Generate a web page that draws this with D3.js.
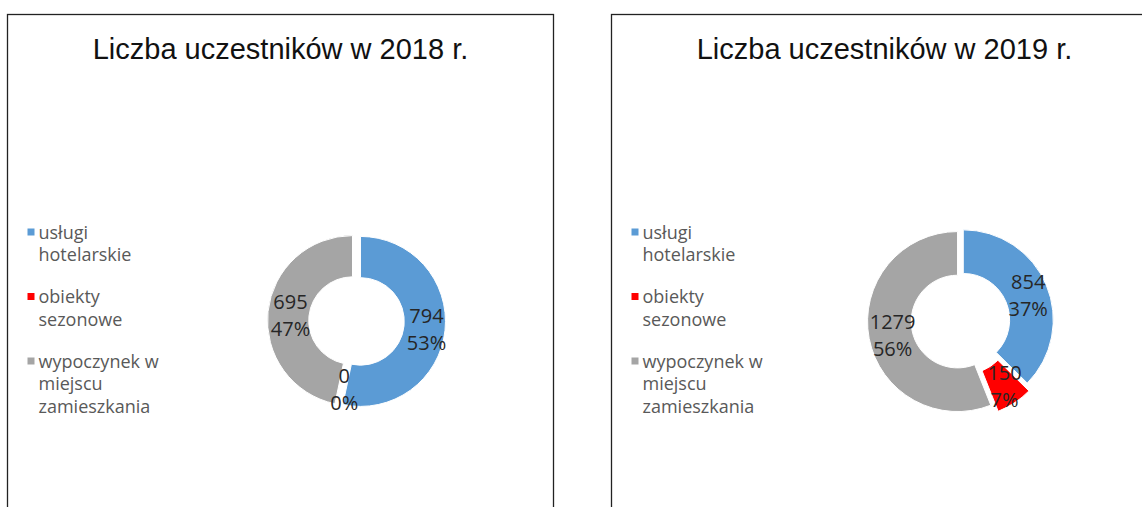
<!DOCTYPE html>
<html>
<head>
<meta charset="utf-8">
<script src="https://cdn.jsdelivr.net/npm/d3@7"></script>
<style>
  body { margin: 0; background: #fff; }
  svg { display: block; }
</style>
</head>
<body>
<div id="chart"></div>
<script>
// chart data
var categories = ["usługi hotelarskie", "obiekty sezonowe", "wypoczynek w miejscu zamieszkania"];
var legendLines = [["usługi", "hotelarskie"], ["obiekty", "sezonowe"], ["wypoczynek w", "miejscu", "zamieszkania"]];
var years = ["2018", "2019"];
var values2018 = [794, 0, 695];
var values2019 = [854, 150, 1279];
var colors = ["#5b9bd5", "#ff0000", "#a5a5a5"];

var W = 1142, H = 507;

// panel layout (left edge, donut size, explosion per slice)
var panels = [
    { year: years[0], values: values2018, x: 7.5, r: 85, explode: [4, 4, 4] },
    { year: years[1], values: values2019, x: 611.5, r: 90, explode: [3, 8, 3] }
];
var panelW = 546;

var svg = d3.select("#chart").append("svg")
    .attr("width", W)
    .attr("height", H);

var pie = d3.pie().sort(null).value(function (d) { return d; });

panels.forEach(function (p) {
    var g = svg.append("g").attr("transform", "translate(" + p.x + ",14.5)");

    // frame
    g.append("rect")
        .attr("x", 0).attr("y", 0)
        .attr("width", panelW).attr("height", 520)
        .attr("fill", "none")
        .attr("stroke", "#222")
        .attr("stroke-width", 1.3);

    g.append("text")
        .attr("x", panelW / 2)
        .attr("y", 44)
        .attr("text-anchor", "middle")
        .style("font-family", "'Liberation Sans', Arial, sans-serif")
        .style("font-size", "29px")
        .attr("fill", "#111")
        .text("Liczba uczestników w " + p.year + " r.");

    // legend
    var ly = 218;
    legendLines.forEach(function (lines, i) {
        var item = g.append("g").attr("transform", "translate(0," + ly + ")");
        item.append("rect")
            .attr("x", 20).attr("y", -4)
            .attr("width", 7).attr("height", 7)
            .attr("fill", colors[i]);
        lines.forEach(function (t, j) {
            item.append("text")
                .attr("x", 31)
                .attr("y", j * 22.5 + 6)
                .style("font-family", "'Open Sans', sans-serif")
                .style("font-size", "18px")
                .attr("fill", "#595959")
                .text(t);
        });
        ly += 64.5;
    });

    // donut
    var cx = 349, cy = 306.5;
    var total = d3.sum(p.values);
    var arc = d3.arc().innerRadius(p.r * 0.515).outerRadius(p.r);
    var arcs = pie(p.values);
    var donut = g.append("g").attr("transform", "translate(" + cx + "," + cy + ")");

    var shift = function (d, i) {
        var a = (d.startAngle + d.endAngle) / 2;
        var e = p.explode[i];
        return [Math.sin(a) * e, -Math.cos(a) * e];
    };

    donut.selectAll(".slice")
        .data(arcs)
        .enter().append("path")
        .attr("class", "slice")
        .attr("transform", function (d, i) {
            var s = shift(d, i);
            return "translate(" + s[0] + "," + s[1] + ")";
        })
        .attr("d", arc)
        .attr("fill", function (d, i) { return colors[i]; })
        .attr("stroke", "#fff")
        .attr("stroke-width", 1);

    // labels on top of all slices: value line and percent line
    var lbl = donut.selectAll(".lbl")
        .data(arcs)
        .enter().append("g")
        .attr("class", "lbl")
        .attr("transform", function (d, i) {
            var c = arc.centroid(d), s = shift(d, i);
            return "translate(" + (c[0] + s[0] + 2) + "," + (c[1] + s[1]) + ")";
        });

    lbl.append("text")
        .attr("y", -5)
        .attr("text-anchor", "middle")
        .style("font-family", "'Open Sans', sans-serif")
        .style("font-size", "20px")
        .attr("fill", "#262626")
        .text(function (d) { return d.data; });

    lbl.append("text")
        .attr("y", 22)
        .attr("text-anchor", "middle")
        .style("font-family", "'Open Sans', sans-serif")
        .style("font-size", "20px")
        .attr("fill", "#262626")
        .text(function (d) { return Math.round(d.data / total * 100) + "%"; });
});
</script>
</body>
</html>
